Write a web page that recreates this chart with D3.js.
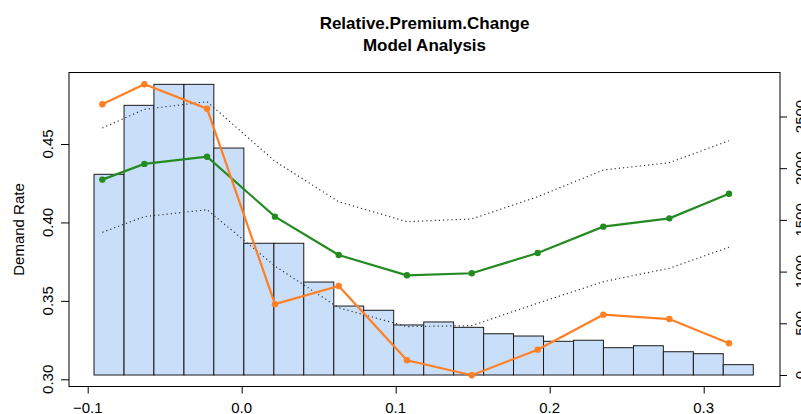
<!DOCTYPE html>
<html>
<head>
<meta charset="utf-8">
<script src="https://cdn.jsdelivr.net/npm/d3@7"></script>
<style>
  body { margin: 0; background: #fff; }
  text { font-family: "Liberation Sans", Arial, Helvetica, sans-serif; fill: #000; }
</style>
</head>
<body>
<div id="chart"></div>
<script>
// histogram of Relative.Premium.Change (right axis = counts)
const breaks = [-0.0959, -0.0764, -0.0570, -0.0375, -0.0181, 0.0014, 0.0209, 0.0403,
  0.0598, 0.0792, 0.0987, 0.1182, 0.1376, 0.1571, 0.1765, 0.1960, 0.2155, 0.2349,
  0.2544, 0.2738, 0.2933, 0.3127, 0.3322]
const counts = [1941, 2608, 2811, 2811, 2195, 1274, 1274, 899, 667, 626, 484, 513,
  461, 399, 377, 326, 336, 264, 283, 225, 206, 100]

// model lines (left axis = demand rate)
const pointX = [-0.0905, -0.0632, -0.0225, 0.0216, 0.0630, 0.1073, 0.1494, 0.1922, 0.2348, 0.2777, 0.3164]
const modelRate = [0.4273, 0.4373, 0.4419, 0.4037, 0.3792, 0.3663, 0.3676, 0.3805, 0.3973, 0.4026, 0.4183]
const observedRate = [0.4753, 0.4881, 0.4725, 0.3479, 0.3595, 0.3121, 0.3026, 0.3189, 0.3412, 0.3384, 0.3230]
const upperBand = [0.4602, 0.4721, 0.4770, 0.4390, 0.4132, 0.4005, 0.4022, 0.4164, 0.4334, 0.4381, 0.4521]
const lowerBand = [0.3937, 0.4037, 0.4081, 0.3722, 0.3456, 0.3336, 0.3342, 0.3485, 0.3622, 0.3708, 0.3842]

const xTicks = [-0.1, 0.0, 0.1, 0.2, 0.3]
const yTicks = [0.30, 0.35, 0.40, 0.45]
const countTicks = [0, 500, 1000, 1500, 2000, 2500]

const width = 801
const height = 414
const box = { left: 69, top: 72.5, right: 780, bottom: 386.5 }

const svg = d3.select('#chart')
  .append('svg')
  .attr('width', width)
  .attr('height', height)

//scales
const x = d3.scaleLinear().domain([-0.1, 0.3]).range([87.7, 703.7])
const y = d3.scaleLinear().domain([0.30, 0.45]).range([379.3, 144])
const yCount = d3.scaleLinear().domain([0, 2500]).range([375, 116.5])

// bars
svg.append('g')
  .selectAll('rect')
  .data(counts)
  .enter()
  .append('rect')
  .attr('x', (d, i) => x(breaks[i]))
  .attr('width', (d, i) => x(breaks[i + 1]) - x(breaks[i]))
  .attr('y', d => yCount(d))
  .attr('height', d => yCount(0) - yCount(d))
  .attr('fill', '#c9dff9')
  .attr('stroke', '#1a1a1a')
  .attr('stroke-width', 1)

const line = d3.line()
  .x(d => x(d[0]))
  .y(d => y(d[1]))

// confidence band
;[upperBand, lowerBand].forEach(band => {
  svg.append('path')
    .datum(pointX.map((v, i) => [v, band[i]]))
    .attr('d', line)
    .attr('fill', 'none')
    .attr('stroke', '#333')
    .attr('stroke-width', 1.2)
    .attr('stroke-dasharray', '1.2,3')
})

const series = [
  { values: modelRate, color: '#238b22' },
  { values: observedRate, color: '#ff7f24' }
]

series.forEach(s => {
  const pts = pointX.map((v, i) => [v, s.values[i]])
  svg.append('path')
    .datum(pts)
    .attr('d', line)
    .attr('fill', 'none')
    .attr('stroke', s.color)
    .attr('stroke-width', 2.2)

  svg.selectAll(null)
    .data(pts)
    .enter()
    .append('circle')
    .attr('cx', d => x(d[0]))
    .attr('cy', d => y(d[1]))
    .attr('r', 3.2)
    .attr('fill', s.color)
})

// frame
svg.append('rect')
  .attr('x', box.left)
  .attr('y', box.top)
  .attr('width', box.right - box.left)
  .attr('height', box.bottom - box.top)
  .attr('fill', 'none')
  .attr('stroke', '#000')
  .attr('stroke-width', 1)

// axes
const xAxis = svg.append('g')
  .attr('transform', `translate(0,${box.bottom})`)
  .call(d3.axisBottom(x).tickValues(xTicks).tickSize(7).tickFormat(''))
xAxis.select('.domain').remove()

const yAxis = svg.append('g')
  .attr('transform', `translate(${box.left},0)`)
  .call(d3.axisLeft(y).tickValues(yTicks).tickSize(8).tickFormat(''))
yAxis.select('.domain').remove()

const rAxis = svg.append('g')
  .attr('transform', `translate(${box.right},0)`)
  .call(d3.axisRight(yCount).tickValues(countTicks).tickSize(7).tickFormat(''))
rAxis.select('.domain').remove()

svg.selectAll('.tick line').attr('stroke', '#000')

svg.selectAll('.xlab')
  .data(xTicks)
  .enter()
  .append('text')
  .attr('x', d => x(d))
  .attr('y', 412.5)
  .attr('text-anchor', 'middle')
  .style('font-size', '15px')
  .text(d => d3.format('.1f')(d))

svg.selectAll('.ylab')
  .data(yTicks)
  .enter()
  .append('text')
  .attr('transform', d => `translate(53,${y(d)}) rotate(-90)`)
  .attr('text-anchor', 'middle')
  .style('font-size', '15px')
  .text(d => d3.format('.2f')(d))

svg.selectAll('.rlab')
  .data(countTicks)
  .enter()
  .append('text')
  .attr('transform', d => `translate(806,${yCount(d)}) rotate(-90)`)
  .attr('text-anchor', 'middle')
  .style('font-size', '15px')
  .text(d => d)

svg.append('text')
  .attr('transform', `translate(24,${(box.top + box.bottom) / 2}) rotate(-90)`)
  .attr('text-anchor', 'middle')
  .style('font-size', '15px')
  .text('Demand Rate')

// title
svg.append('text')
  .attr('x', (box.left + box.right) / 2)
  .attr('y', 29)
  .attr('text-anchor', 'middle')
  .style('font-size', '17px')
  .style('font-weight', 'bold')
  .text('Relative.Premium.Change')

svg.append('text')
  .attr('x', (box.left + box.right) / 2)
  .attr('y', 51)
  .attr('text-anchor', 'middle')
  .style('font-size', '17px')
  .style('font-weight', 'bold')
  .text('Model Analysis')
</script>
</body>
</html>
